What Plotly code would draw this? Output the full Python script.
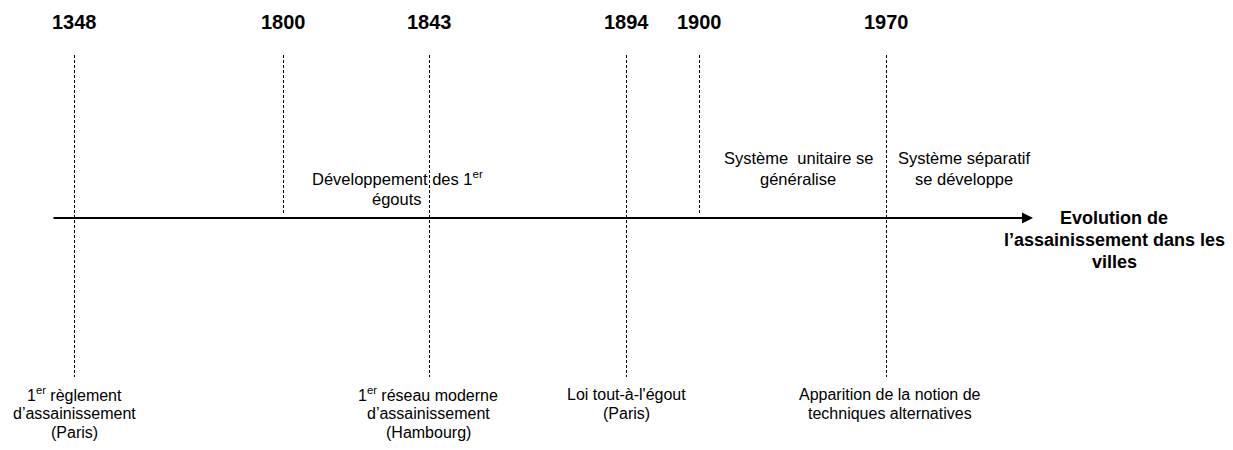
import plotly.graph_objects as go

# schematic timeline (positions are not proportional to years in the original)
years = ["1348", "1800", "1843", "1894", "1900", "1970"]
year_pos = [74, 283, 429, 626, 699, 886]
crosses_axis = [True, False, True, True, False, True]

above_labels = [
    ["Développement des 1<sup>er</sup>", "égouts"],
    ["Système  unitaire se", "généralise"],
    ["Système séparatif", "se développe"],
]
above_pos = [397, 798, 964]
above_top = [178, 158, 158]

below_labels = [
    ["1<sup>er</sup> règlement", "d’assainissement", "(Paris)"],
    ["1<sup>er</sup> réseau moderne", "d’assainissement", "(Hambourg)"],
    ["Loi tout-à-l'égout", "(Paris)"],
    ["Apparition de la notion de", "techniques alternatives"],
]
below_pos = [74, 428, 626, 890]

axis_title = ["Evolution de", "l’assainissement dans les", "villes"]

W, H = 1233, 450
OFF = 8          # body margin of the html page
axis_y = 218
font = "Liberation Sans, Arial, sans-serif"

fig = go.Figure()

# dashed year markers
for x, full in zip(year_pos, crosses_axis):
    y_end = 377 if full else 213
    fig.add_trace(go.Scatter(
        x=[x + 0.5, x + 0.5], y=[55, y_end], mode="lines",
        line=dict(color="black", width=1, dash="3px,2px"),
        hoverinfo="skip", showlegend=False
    ))

annotations = []

# main arrow
annotations.append(dict(
    x=1033, y=axis_y, ax=52, ay=axis_y, xref="x", yref="y", axref="x", ayref="y",
    showarrow=True, arrowhead=2, arrowsize=1.1, arrowwidth=2, arrowcolor="black", text=""
))

for yr, x in zip(years, year_pos):
    annotations.append(dict(
        x=x, y=22, xref="x", yref="y", text=f"<b>{yr}</b>", showarrow=False,
        font=dict(size=20, color="black", family=font)
    ))


def add_lines(lines, x, y0, step, size, bold=False):
    for i, line in enumerate(lines):
        txt = f"<b>{line}</b>" if bold else line
        annotations.append(dict(
            x=x, y=y0 + i * step, xref="x", yref="y", text=txt, showarrow=False,
            font=dict(size=size, color="black", family=font)
        ))


for lines, x, y0 in zip(above_labels, above_pos, above_top):
    add_lines(lines, x, y0, 21, 16.5)

for lines, x in zip(below_labels, below_pos):
    add_lines(lines, x, 394, 19, 16)

add_lines(axis_title, 1114, 218, 22, 18, bold=True)

fig.update_layout(
    width=W, height=H,
    margin=dict(l=0, r=0, t=0, b=0),
    paper_bgcolor="white", plot_bgcolor="white",
    xaxis=dict(range=[OFF, W + OFF], visible=False, fixedrange=True),
    yaxis=dict(range=[H + OFF, OFF], visible=False, fixedrange=True),
    annotations=annotations,
    showlegend=False
)

fig.write_html("out.html")
